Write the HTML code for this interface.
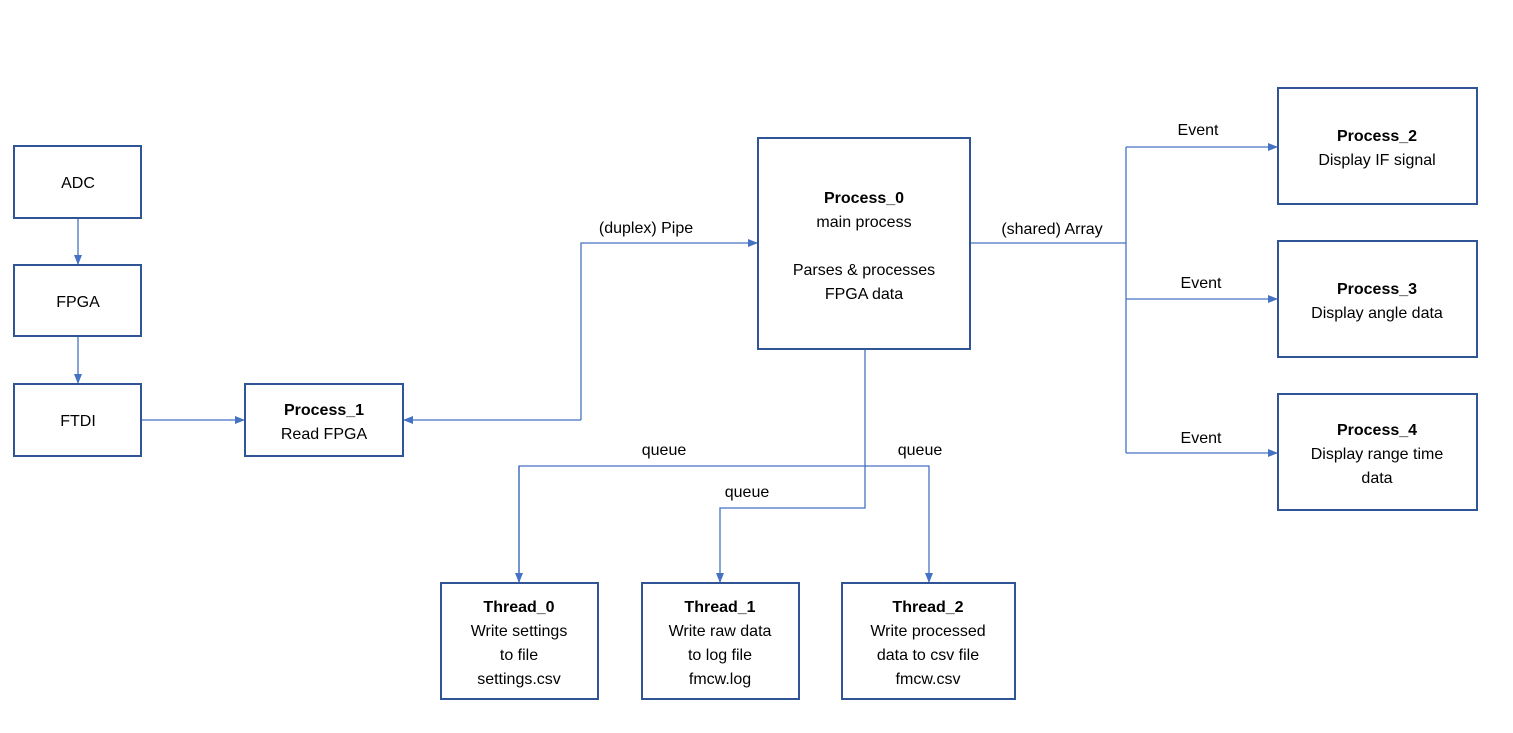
<!DOCTYPE html>
<html><head><meta charset="utf-8"><style>
body{margin:0;background:#fff}
svg text{font-family:"Liberation Sans",sans-serif;font-size:16px;fill:#000}
.b{font-weight:bold}
</style></head><body>
<svg width="1513" height="728" xmlns="http://www.w3.org/2000/svg">
<defs><marker id="a" markerWidth="10" markerHeight="10" refX="9" refY="5" orient="auto" markerUnits="userSpaceOnUse"><path d="M0,1 L10,5 L0,9 z" fill="#4472c4"/></marker></defs>
<g fill="none" stroke="#4472c4" stroke-width="1.3">
<path d="M78,218 V264" marker-end="url(#a)"/>
<path d="M78,336 V383" marker-end="url(#a)"/>
<path d="M141,420 H244" marker-end="url(#a)"/>
<path d="M581,420 H404" marker-end="url(#a)"/>
<path d="M581,420 V243 H757" marker-end="url(#a)"/>
<path d="M970,243 H1126"/>
<path d="M1126,147 V453"/>
<path d="M1126,147 H1277" marker-end="url(#a)"/>
<path d="M1126,299 H1277" marker-end="url(#a)"/>
<path d="M1126,453 H1277" marker-end="url(#a)"/>
<path d="M865,349 V508 H720 V582" marker-end="url(#a)"/>
<path d="M519,582 V466 H929 V582" marker-end="url(#a)"/>
<path d="M519,466 V582" marker-end="url(#a)"/>
</g>
<g fill="#fff" stroke="#2f5597" stroke-width="2">
<rect x="14" y="146" width="127" height="72"/>
<rect x="14" y="265" width="127" height="71"/>
<rect x="14" y="384" width="127" height="72"/>
<rect x="245" y="384" width="158" height="72"/>
<rect x="758" y="138" width="212" height="211"/>
<rect x="1278" y="88" width="199" height="116"/>
<rect x="1278" y="241" width="199" height="116"/>
<rect x="1278" y="394" width="199" height="116"/>
<rect x="441" y="583" width="157" height="116"/>
<rect x="642" y="583" width="157" height="116"/>
<rect x="842" y="583" width="173" height="116"/>
</g>
<g text-anchor="middle">
<text x="78" y="188">ADC</text>
<text x="78" y="307">FPGA</text>
<text x="78" y="426">FTDI</text>
<text x="324" y="415" class="b">Process_1</text>
<text x="324" y="439">Read FPGA</text>
<text x="864" y="203" class="b">Process_0</text>
<text x="864" y="227">main process</text>
<text x="864" y="275">Parses &amp; processes</text>
<text x="864" y="299">FPGA data</text>
<text x="1377" y="141" class="b">Process_2</text>
<text x="1377" y="165">Display IF signal</text>
<text x="1377" y="294" class="b">Process_3</text>
<text x="1377" y="318">Display angle data</text>
<text x="1377" y="435" class="b">Process_4</text>
<text x="1377" y="459">Display range time</text>
<text x="1377" y="483">data</text>
<text x="519" y="612" class="b">Thread_0</text>
<text x="519" y="636">Write settings</text>
<text x="519" y="660">to file</text>
<text x="519" y="684">settings.csv</text>
<text x="720" y="612" class="b">Thread_1</text>
<text x="720" y="636">Write raw data</text>
<text x="720" y="660">to log file</text>
<text x="720" y="684">fmcw.log</text>
<text x="928" y="612" class="b">Thread_2</text>
<text x="928" y="636">Write processed</text>
<text x="928" y="660">data to csv file</text>
<text x="928" y="684">fmcw.csv</text>
<text x="646" y="233">(duplex) Pipe</text>
<text x="1052" y="234">(shared) Array</text>
<text x="1198" y="135">Event</text>
<text x="1201" y="288">Event</text>
<text x="1201" y="443">Event</text>
<text x="664" y="455">queue</text>
<text x="747" y="497">queue</text>
<text x="920" y="455">queue</text>
</g>
</svg>
</body></html>
